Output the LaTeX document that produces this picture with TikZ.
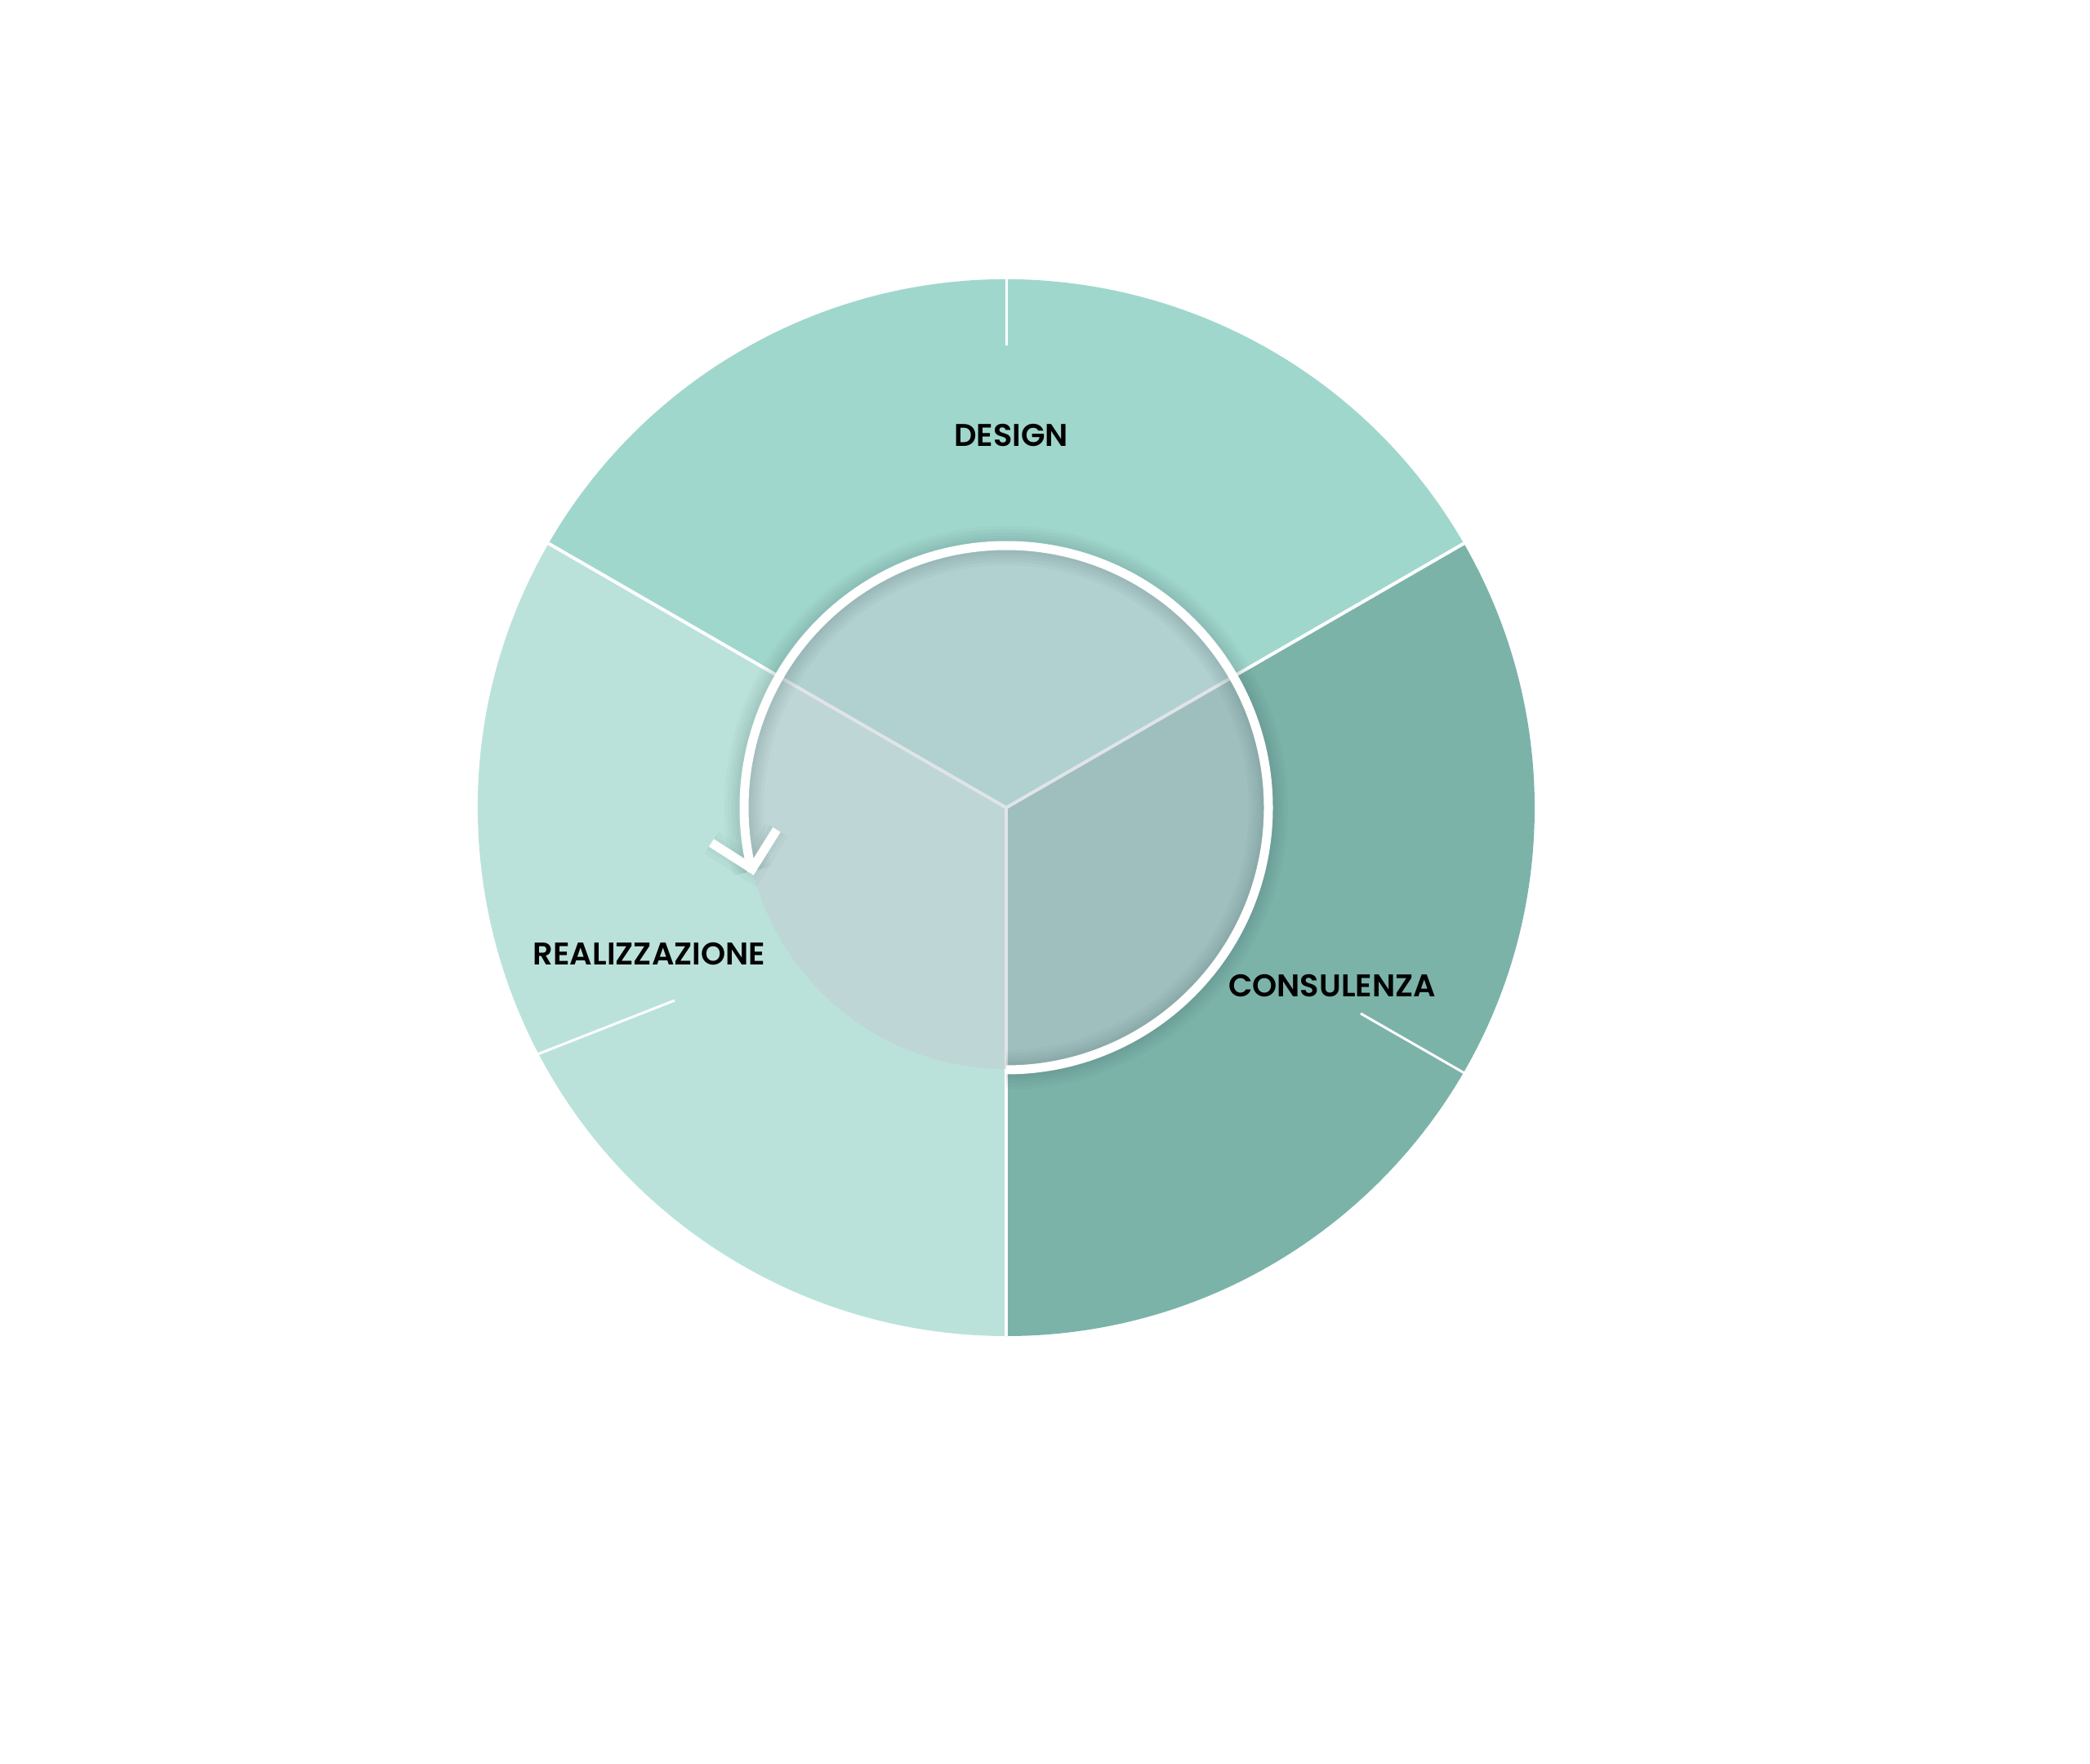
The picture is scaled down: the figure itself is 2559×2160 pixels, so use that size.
\documentclass[tikz,border=0pt]{standalone}
\usepackage{fontspec}
\newfontfamily\labelfont{Poppins SemiBold}
\begin{document}
\begin{tikzpicture}[x=0.25pt,y=0.25pt,yscale=-1,xscale=1,
  sectorline/.style={draw={rgb, 255:red, 255; green, 255; blue, 255 }, line width=1pt},
  edgetick/.style={draw={rgb, 255:red, 255; green, 255; blue, 255 }, line width=0.75pt},
  ring/.style={draw={rgb, 255:red, 255; green, 255; blue, 255 }, line width=2.75pt, line join=miter},
  halo/.style={draw={rgb, 255:red, 40; green, 70; blue, 70 }, draw opacity=0.03},
  sectortext/.style={inner sep=0pt, text={rgb, 255:red, 0; green, 0; blue, 0 }, font=\labelfont\fontsize{9.6}{11}\selectfont}]
\useasboundingbox (0,0) rectangle (2559,2160);

%Shape: Sector [id:design]
\fill [color={rgb, 255:red, 160; green, 215; blue, 205 }] (1232,989) -- (1792.3,665.5) arc[start angle=-30, end angle=-150, radius=647] -- cycle ;
%Shape: Sector [id:realizzazione]
\fill [color={rgb, 255:red, 186; green, 226; blue, 219 }] (1232,989) -- (671.7,665.5) arc[start angle=-150, end angle=-270, radius=647] -- cycle ;
%Shape: Sector [id:consulenza]
\fill [color={rgb, 255:red, 123; green, 179; blue, 169 }] (1232,989) -- (1232,1636) arc[start angle=90, end angle=-30, radius=647] -- cycle ;

%Straight Lines [id:sector borders]
\draw [sectorline] (1232,989) -- (1792.3,665.5) ;
\draw [sectorline] (1232,989) -- (671.7,665.5) ;
\draw [sectorline] (1232,989) -- (1232,1636) ;

%Shape: Circle [id:hub]
\fill [color={rgb, 255:red, 195; green, 203; blue, 211 }, fill opacity=0.5] (1232,989) circle[radius=320] ;

%Shape: Arc shadow
\draw [halo, line width=12pt] (1232,1310) arc[start angle=90, end angle=-194, radius=321] ;
\draw [halo, line width=10pt] (1232,1310) arc[start angle=90, end angle=-194, radius=321] ;
\draw [halo, line width=8pt] (1232,1310) arc[start angle=90, end angle=-194, radius=321] ;
\draw [halo, line width=6pt] (1232,1310) arc[start angle=90, end angle=-194, radius=321] ;
\draw [halo, line width=4.5pt] (1232,1310) arc[start angle=90, end angle=-194, radius=321] ;
\draw [halo, line width=8pt] (871,1032) -- (921,1064) -- (951,1016) ;
\draw [halo, line width=5pt] (871,1032) -- (921,1064) -- (951,1016) ;
%Shape: Arc [id:cycle ring]
\draw [ring] (1232,1310) arc[start angle=90, end angle=-194, radius=321] ;
\draw [ring] (871,1032) -- (921,1064) -- (951,1016) ;

%Straight Lines [id:ticks]
\draw [edgetick] (1232,342) -- (1232,423) ;
\draw [edgetick] (658,1291) -- (826,1225) ;
\draw [edgetick] (1793,1314) -- (1666,1241) ;

% Text Node
\node [sectortext] (design) at (1238,533) {DESIGN};
% Text Node
\node [sectortext] (realizzazione) at (795,1168) {REALIZZAZIONE};
% Text Node
\node [sectortext] (consulenza) at (1631,1207) {CONSULENZA};

\end{tikzpicture}
\end{document}
